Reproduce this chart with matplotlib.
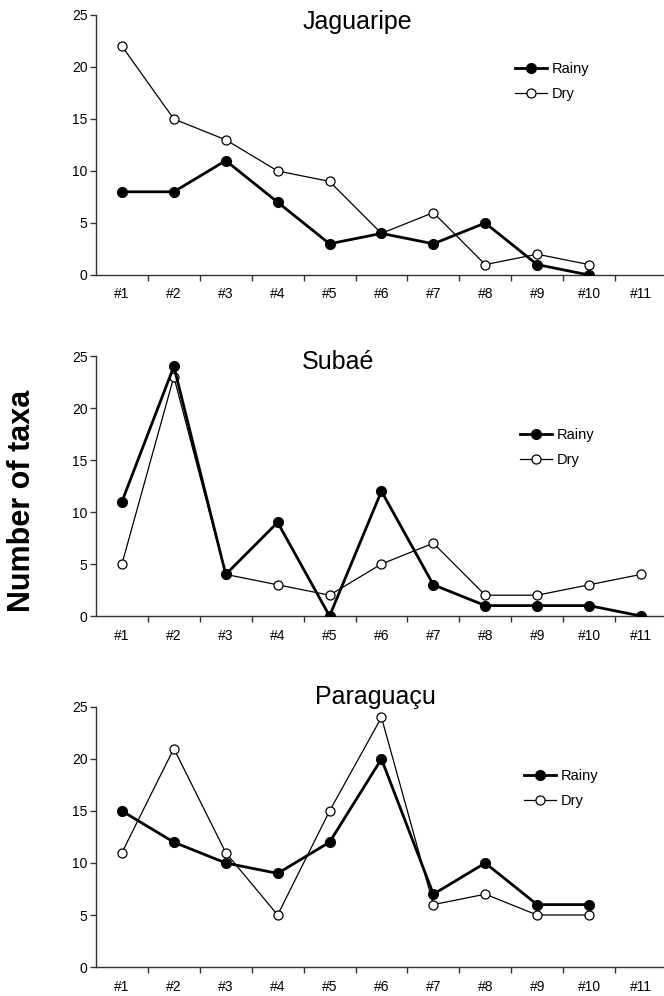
import matplotlib
matplotlib.use("Agg")
from matplotlib import pyplot as plt
from matplotlib.ticker import FixedLocator
import numpy as np

plt.rcParams['font.family'] = ['Liberation Sans', 'DejaVu Sans']

sites = ["#1", "#2", "#3", "#4", "#5", "#6", "#7", "#8", "#9", "#10", "#11"]

jaguaripe_rainy = [8, 8, 11, 7, 3, 4, 3, 5, 1, 0]
jaguaripe_dry = [22, 15, 13, 10, 9, 4, 6, 1, 2, 1]

subae_rainy = [11, 24, 4, 9, 0, 12, 3, 1, 1, 1, 0]
subae_dry = [5, 23, 4, 3, 2, 5, 7, 2, 2, 3, 4]

paraguacu_rainy = [15, 12, 10, 9, 12, 20, 7, 10, 6, 6]
paraguacu_dry = [11, 21, 11, 5, 15, 24, 6, 7, 5, 5]

panels = [
    ("Jaguaripe", jaguaripe_rainy, jaguaripe_dry),
    ("Subaé", subae_rainy, subae_dry),
    ("Paraguaçu", paraguacu_rainy, paraguacu_dry),
]

W, H = 664, 996
fig = plt.figure(figsize=(W / 100, H / 100), dpi=100)

# pixel layout of each panel: (y of 25, y of 0), title centre, legend top-left
layout = [
    ((15, 275), (357, 22), (515, 62)),
    ((356, 616), (338, 362), (520, 428)),
    ((707, 967), (375, 697), (524, 769)),
]

left_px, right_px = 96, 664
step_px = 51.9

for (title, rainy, dry), ((ytop, ybot), (tx, ty), (lx, ly)) in zip(panels, layout):
    ax = fig.add_axes([left_px / W, 1 - ybot / H,
                       (right_px - left_px) / W, (ybot - ytop) / H])

    x_r = np.arange(1, len(rainy) + 1)
    x_d = np.arange(1, len(dry) + 1)
    ax.plot(x_d, dry, color="black", lw=0.9, marker="o", ms=6.5,
            mfc="white", mec="black", mew=0.9, label="Dry", zorder=3)
    ax.plot(x_r, rainy, color="black", lw=2.0, marker="o", ms=7,
            mfc="black", mec="black", label="Rainy", zorder=4)

    ax.set_ylim(0, 25)
    ax.set_xlim(0.5, 0.5 + (right_px - left_px) / step_px)
    ax.set_yticks(range(0, 26, 5))
    ax.set_xticks(range(1, len(sites) + 1))
    ax.set_xticklabels(sites)
    ax.xaxis.set_minor_locator(FixedLocator(np.arange(1.5, 11, 1)))

    for side in ("top", "right"):
        ax.spines[side].set_visible(False)
    for side in ("left", "bottom"):
        ax.spines[side].set_color("#333333")
        ax.spines[side].set_linewidth(1.0)

    ax.tick_params(axis="x", which="major", length=0, pad=9, labelsize=10)
    ax.tick_params(axis="x", which="minor", length=4, width=1.0,
                   direction="out", color="#333333")
    ax.tick_params(axis="y", length=4, width=1.0, direction="out",
                   color="#333333", labelsize=10, pad=2)

    fig.text(tx / W, 1 - ty / H, title, fontsize=18, ha="center", va="center")

    handles, labels = ax.get_legend_handles_labels()
    ax.legend(handles[::-1], labels[::-1], loc="upper left", frameon=False,
              bbox_to_anchor=(lx / W, 1 - ly / H), bbox_transform=fig.transFigure,
              fontsize=10.5, handlelength=2.2, handletextpad=0.35,
              labelspacing=0.75, borderpad=0, borderaxespad=0)

fig.text(22 / W, 0.497, "Number of taxa", rotation=90, fontsize=22,
         fontweight="bold", ha="center", va="center")

plt.savefig("out.png", dpi=100)
